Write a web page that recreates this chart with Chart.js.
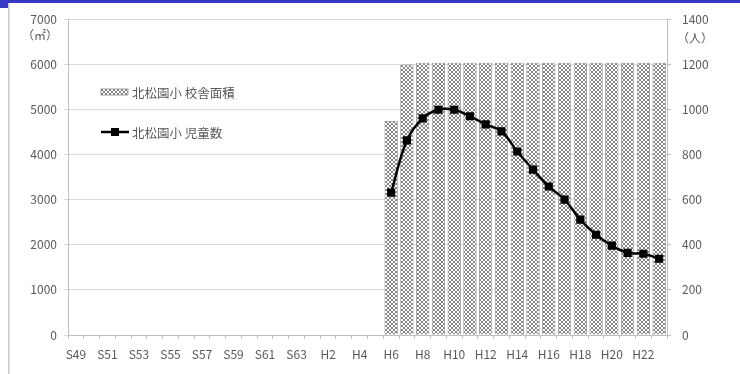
<!DOCTYPE html>
<html><head><meta charset="utf-8">
<script src="https://cdn.jsdelivr.net/npm/chart.js@4/dist/chart.umd.min.js"></script>
<style>html,body{margin:0;padding:0;background:#fff}#wrap{width:740px;height:374px;position:relative}</style>
</head><body><div id="wrap"><canvas id="c" width="740" height="374"></canvas></div>
<script>
const categories = ['S49','S50','S51','S52','S53','S54','S55','S56','S57','S58','S59','S60','S61','S62','S63',
  'H1','H2','H3','H4','H5','H6','H7','H8','H9','H10','H11','H12','H13','H14','H15','H16','H17','H18','H19','H20','H21','H22','H23'];
const floorArea = [null,null,null,null,null,null,null,null,null,null,null,null,null,null,null,
  null,null,null,null,null,4740,5990,6030,6030,6030,6030,6030,6030,6030,6030,6030,6030,6030,6030,6030,6030,6030,6030];
const students = [null,null,null,null,null,null,null,null,null,null,null,null,null,null,null,
  null,null,null,null,null,631,862,960,998,998,969,933,902,813,733,658,600,511,444,396,364,360,338];
const seriesNames = ['北松園小 校舎面積','北松園小 児童数'];
const leftTicks = [0,1000,2000,3000,4000,5000,6000,7000];
const rightTicks = [0,200,400,600,800,1000,1200,1400];
const unitLeft = '（㎡）';
const unitRight = '（人）';

const FONT = '"Noto Sans CJK JP", "Noto Sans", sans-serif';
const TXT = '#595959';

function makePattern(){
  const p = document.createElement('canvas'); p.width = 4; p.height = 4;
  const g = p.getContext('2d');
  g.fillStyle = '#ffffff'; g.fillRect(0,0,4,4);
  g.fillStyle = '#858585';
  [[0,0],[1,1],[2,2],[3,3],[3,0],[2,1],[1,2],[0,3]].forEach(([x,y])=>g.fillRect(x,y,1,1));
  return document.getElementById('c').getContext('2d').createPattern(p,'repeat');
}
const pattern = makePattern();

const framePlugin = {
  id:'frame',
  beforeDraw(chart){
    const ctx = chart.ctx;
    ctx.save();
    ctx.fillStyle = '#ffffff'; ctx.fillRect(0,0,740,374);
    ctx.fillStyle = '#3838c4'; ctx.fillRect(0,0,740,3); ctx.fillRect(0,0,8,8);
    ctx.fillStyle = '#c8c8c8'; ctx.fillRect(8,3,1.5,371);
    ctx.restore();
  },
  afterDraw(chart){
    const ctx = chart.ctx;
    const yl = chart.scales.y, yr = chart.scales.y2;
    ctx.save();
    ctx.fillStyle = TXT; ctx.font = '12px ' + FONT; ctx.textBaseline = 'middle';
    ctx.textAlign = 'right';
    ctx.fillText(unitLeft, yl.right - 10, yl.getPixelForValue(7000) + 16);
    ctx.textAlign = 'left';
    ctx.fillText(unitRight, yr.left + 10, yr.getPixelForValue(1400) + 19);
    // legend
    const lx = 101;
    const ys = [92, 132];
    ctx.font = '12.5px ' + FONT; ctx.fillStyle = TXT; ctx.textAlign = 'left';
    ctx.fillStyle = pattern; ctx.fillRect(lx, ys[0]-3, 27, 6);
    ctx.strokeStyle = '#8c8c8c'; ctx.lineWidth = 0.8; ctx.strokeRect(lx, ys[0]-3, 27, 6);
    ctx.fillStyle = TXT; ctx.fillText(seriesNames[0], lx + 31, ys[0]+1);
    ctx.strokeStyle = '#000'; ctx.lineWidth = 2.5;
    ctx.beginPath(); ctx.moveTo(lx, ys[1]); ctx.lineTo(lx+28, ys[1]); ctx.stroke();
    ctx.fillStyle = '#000'; ctx.fillRect(lx+14-4, ys[1]-4, 8, 8);
    ctx.fillStyle = TXT; ctx.fillText(seriesNames[1], lx + 31, ys[1]+1);
    ctx.restore();
  }
};

new Chart(document.getElementById('c'), {
  data: {
    labels: categories,
    datasets: [
      { type:'line', label: seriesNames[1], data: students, yAxisID:'y2', order:0,
        borderColor:'#000', borderWidth:2.5, pointStyle:'rect', pointRadius:4, pointBackgroundColor:'#000',
        pointBorderColor:'#000', tension:0.4, spanGaps:false },
      { type:'bar', label: seriesNames[0], data: floorArea, yAxisID:'y', order:1,
        backgroundColor: pattern, borderColor:'#7f7f7f', borderWidth:0.8,
        categoryPercentage:1.0, barPercentage:0.84 }
    ]
  },
  options: {
    responsive:false, animation:false,
    layout:{ padding:{ top:19, left:0, right:0, bottom:0 } },
    plugins:{ legend:{display:false}, tooltip:{enabled:false} },
    scales:{
      x:{
        offset:true,
        grid:{ display:true, offset:true, drawOnChartArea:false, tickLength:4, color:'#bfbfbf' },
        border:{ color:'#bfbfbf' },
        ticks:{ autoSkip:false, maxRotation:0, minRotation:0, padding:8, color:TXT,
          font:{ size:12, family:FONT },
          callback(v, i){ return i % 2 === 0 ? categories[i] : ''; } },
        afterFit(s){ s.height = 39; }
      },
      y:{
        position:'left', min:0, max:7000,
        afterBuildTicks(s){ s.ticks = leftTicks.map(v=>({value:v})); },
        grid:{ color:'#d9d9d9', tickLength:4 },
        border:{ color:'#bfbfbf' },
        ticks:{ padding:7, color:TXT, font:{ size:12, family:FONT }, callback(v){ return String(v); } },
        afterFit(s){ s.width = 68; }
      },
      y2:{
        position:'right', min:0, max:1400,
        afterBuildTicks(s){ s.ticks = rightTicks.map(v=>({value:v})); },
        grid:{ drawOnChartArea:false, color:'#bfbfbf', tickLength:4 },
        border:{ color:'#bfbfbf' },
        ticks:{ padding:11, color:TXT, font:{ size:12, family:FONT }, callback(v){ return String(v); } },
        afterFit(s){ s.width = 73; }
      }
    }
  },
  plugins:[framePlugin]
});
</script></body></html>
